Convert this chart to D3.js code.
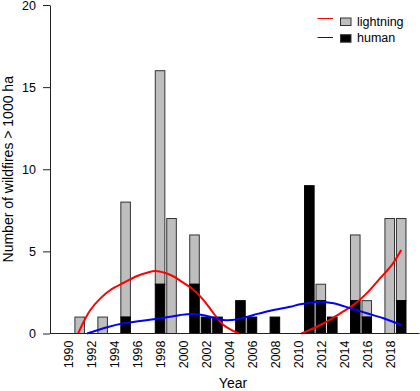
<!DOCTYPE html>
<html>
<head>
<meta charset="utf-8">
<script src="https://cdn.jsdelivr.net/npm/d3@7"></script>
<style>
  html, body { margin: 0; padding: 0; background: #fff; }
  svg { display: block; font-family: "Liberation Sans", Arial, Helvetica, sans-serif; }
</style>
</head>
<body>
<svg id="chart" width="420" height="391"></svg>
<script>
// ---- data ----
const years = d3.range(1990, 2020);
const human =     [0,0,0,0,0,1,0,0,3,0,0,3,1,1,0,2,1,0,1,0,0,9,2,1,0,2,1,0,0,2];
const lightning = [0,1,0,1,0,7,0,0,13,7,0,3,0,0,0,0,0,0,0,0,0,0,1,0,0,4,1,0,7,5];
const yTicks = [0, 5, 10, 15, 20];
const xLabelYears = d3.range(1990, 2019, 2);

// smoothed trends (year, value)
const lightningTrendA_year  = [1990.86,1991.35,1991.93,1992.8,1993.67,1994.83,1996.0,1996.87,1997.59,1998.46,1999.18,2000.05,2000.92,2001.79,2002.66,2003.53,2004.84];
const lightningTrendA_value = [0,0.72,1.43,2.14,2.65,3.09,3.5,3.7,3.8,3.68,3.47,3.08,2.65,2.03,1.23,0.52,0];
const lightningTrendB_year  = [2010.3,2011.37,2012.53,2013.69,2014.85,2016.01,2017.17,2018.19,2019];
const lightningTrendB_value = [0,0.32,0.72,1.23,1.74,2.46,3.37,4.18,5.09];
const humanTrend_year  = [1991.64,1993.39,1994.83,1996.28,1997.74,1998.89,1999.77,2000.92,2002.09,2003.53,2004.7,2006.14,2007.6,2009.34,2010.21,2011.95,2013.11,2014.57,2016.01,2017.46,2019];
const humanTrend_value = [0,0.38,0.62,0.76,0.9,1.02,1.13,1.19,1.07,0.82,0.86,1.13,1.39,1.63,1.78,1.94,1.84,1.54,1.23,0.93,0.52];

const legendLabels = ["lightning", "human"];
const legendLine = ["#ff0000", "#0000ff"];
const legendFill = ["#bebebe", "#000000"];

// ---- layout ----
const svg = d3.select("#chart");
const plotLeft = 50, plotRight = 419.5, plotTop = 5, plotBottom = 333.5;
const legendLineY = [18.5, 37.5];

const x = d3.scaleLinear().domain([1990, 2019]).range([68.2, 401.2]);
const step = x(1991) - x(1990);
const barW = step / 1.2;
const y = d3.scaleLinear().domain([0, 20]).range([plotBottom, plotTop]);

const rows = years.map((yr, i) => ({ yr, h: human[i], l: lightning[i] }));

// lightning (stacked on top of human)
svg.append("g").selectAll("rect")
  .data(rows.filter(d => d.l > 0))
  .join("rect")
  .attr("x", d => x(d.yr) - barW / 2)
  .attr("width", barW)
  .attr("y", d => y(d.h + d.l))
  .attr("height", d => y(d.h) - y(d.h + d.l))
  .attr("fill", "#bebebe")
  .attr("stroke", "#333")
  .attr("stroke-width", 1);

// human
svg.append("g").selectAll("rect")
  .data(rows.filter(d => d.h > 0))
  .join("rect")
  .attr("x", d => x(d.yr) - barW / 2)
  .attr("width", barW)
  .attr("y", d => y(d.h))
  .attr("height", d => y(0) - y(d.h))
  .attr("fill", "#000")
  .attr("stroke", "#000")
  .attr("stroke-width", 1);

// trend lines
const line = d3.line().x(d => x(d[0])).y(d => y(d[1])).curve(d3.curveCatmullRom.alpha(0.5));
const zip = (a, b) => a.map((v, i) => [v, b[i]]);
svg.append("path").datum(zip(lightningTrendA_year, lightningTrendA_value))
  .attr("d", line).attr("fill", "none").attr("stroke", "#ff0000").attr("stroke-width", 2);
svg.append("path").datum(zip(lightningTrendB_year, lightningTrendB_value))
  .attr("d", line).attr("fill", "none").attr("stroke", "#ff0000").attr("stroke-width", 2);
svg.append("path").datum(zip(humanTrend_year, humanTrend_value))
  .attr("d", line).attr("fill", "none").attr("stroke", "#0000ff").attr("stroke-width", 2);

// baseline
svg.append("line")
  .attr("x1", plotLeft).attr("x2", plotRight)
  .attr("y1", y(0)).attr("y2", y(0))
  .attr("stroke", "#222").attr("stroke-width", 1);

// y axis
const yAxis = svg.append("g")
  .attr("transform", `translate(${plotLeft},0)`)
  .call(d3.axisLeft(y).tickValues(yTicks).tickSize(7).tickSizeOuter(0).tickPadding(7));
yAxis.select(".domain").attr("stroke", "#222");
yAxis.selectAll(".tick line").attr("stroke", "#222");
yAxis.selectAll("text").attr("font-size", 12.5).attr("fill", "#000")
  .attr("font-family", "'Liberation Sans', Arial, sans-serif");

// x labels
const xAxis = svg.append("g")
  .attr("transform", `translate(0,${y(0)})`)
  .call(d3.axisBottom(x).tickValues(xLabelYears).tickFormat(d3.format("d")).tickSize(0));
xAxis.select(".domain").remove();
xAxis.selectAll("text")
  .attr("transform", "rotate(-90)")
  .attr("x", -7).attr("y", 0).attr("dy", "0.35em")
  .attr("text-anchor", "end")
  .attr("font-size", 12.5).attr("fill", "#000")
  .attr("font-family", "'Liberation Sans', Arial, sans-serif");

// axis titles
svg.append("text")
  .attr("transform", `translate(13,${(plotTop + plotBottom) / 2}) rotate(-90)`)
  .attr("text-anchor", "middle")
  .attr("font-size", 14)
  .text("Number of wildfires > 1000 ha");
svg.append("text")
  .attr("x", 233).attr("y", 388)
  .attr("text-anchor", "middle")
  .attr("font-size", 14)
  .text("Year");

// legend
const leg = svg.append("g").selectAll("g")
  .data(legendLabels)
  .join("g");
leg.append("line")
  .attr("x1", 317.5).attr("x2", 333).attr("y1", (d, i) => legendLineY[i]).attr("y2", (d, i) => legendLineY[i])
  .attr("stroke", (d, i) => legendLine[i]).attr("stroke-width", 1);
leg.append("rect")
  .attr("x", 340.5).attr("y", (d, i) => 18 + i * 16.7).attr("width", 10.5).attr("height", 7.5)
  .attr("fill", (d, i) => legendFill[i]).attr("stroke", "#333").attr("stroke-width", 1);
leg.append("text")
  .attr("x", 357).attr("y", (d, i) => 26.3 + i * 16)
  .attr("font-size", 12.5)
  .text(d => d);
</script>
</body>
</html>
